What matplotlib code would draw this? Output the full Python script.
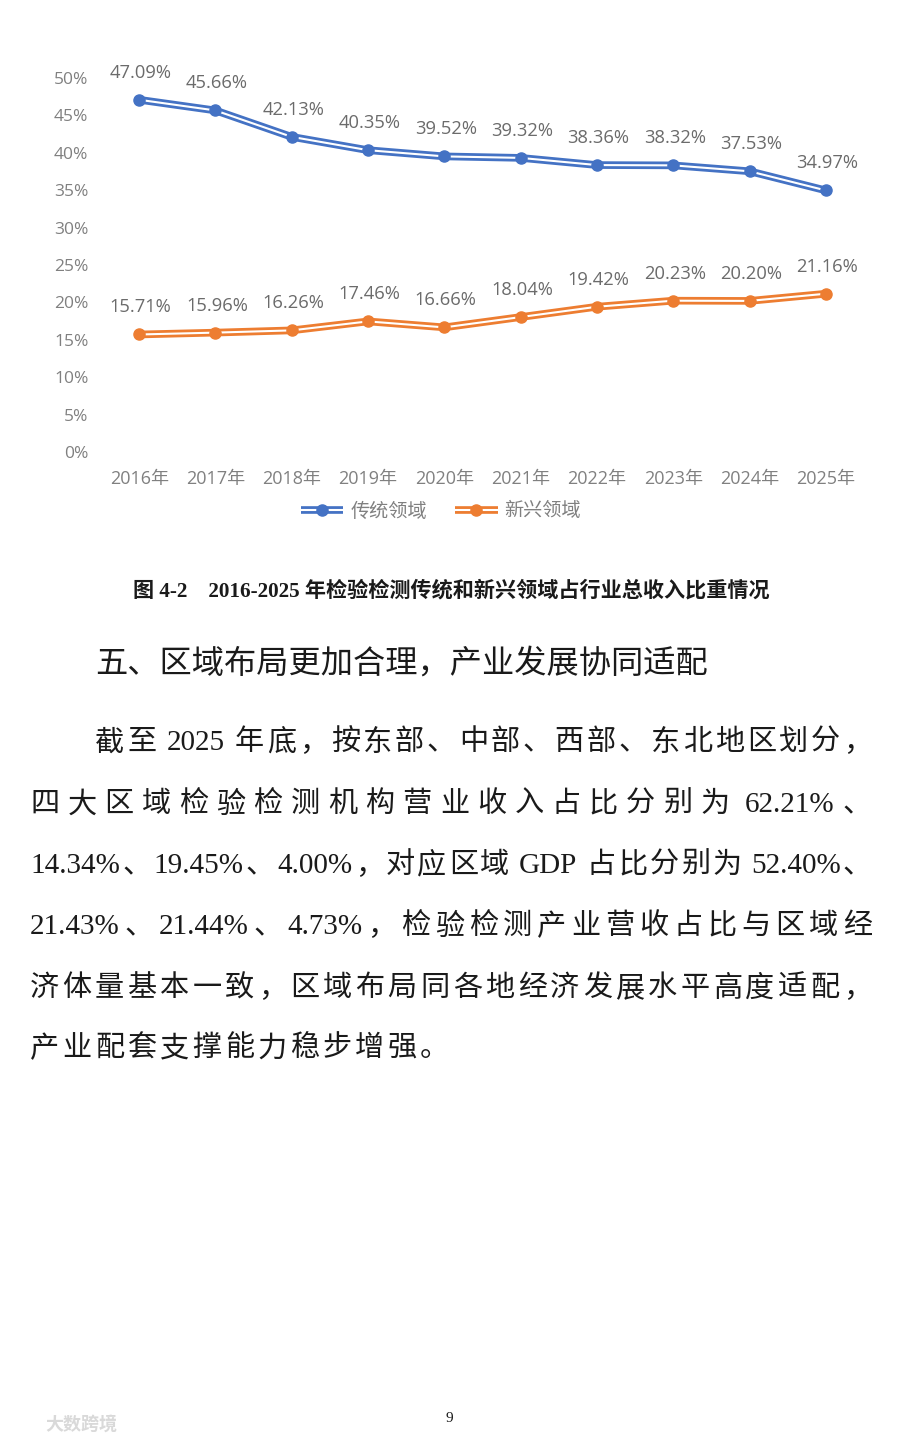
import re
import matplotlib
matplotlib.use("Agg")
import matplotlib.pyplot as plt
import matplotlib.patheffects as pe
from matplotlib.legend_handler import HandlerTuple

# ---------------- data ----------------
years = ["2016年", "2017年", "2018年", "2019年", "2020年",
         "2021年", "2022年", "2023年", "2024年", "2025年"]
traditional = [47.09, 45.66, 42.13, 40.35, 39.52, 39.32, 38.36, 38.32, 37.53, 34.97]
emerging = [15.71, 15.96, 16.26, 17.46, 16.66, 18.04, 19.42, 20.23, 20.20, 21.16]
ytick_vals = [0, 5, 10, 15, 20, 25, 30, 35, 40, 45, 50]
series_names = ["传统领域", "新兴领域"]

caption = "图 4-2    2016-2025 年检验检测传统和新兴领域占行业总收入比重情况"
heading = "五、区域布局更加合理，产业发展协同适配"
body_lines = [
    "截至 2025 年底，按东部、中部、西部、东北地区划分，",
    "四大区域检验检测机构营业收入占比分别为 62.21%、",
    "14.34%、19.45%、4.00%，对应区域 GDP 占比分别为 52.40%、",
    "21.43%、21.44%、4.73%，检验检测产业营收占比与区域经",
    "济体量基本一致，区域布局同各地经济发展水平高度适配，",
    "产业配套支撑能力稳步增强。",
]
page_number = "9"
watermark = "大数跨境"

# ---------------- figure ----------------
W, H = 900, 1443
fig = plt.figure(figsize=(W / 100, H / 100), dpi=100)
fig.patch.set_facecolor("white")

SANS = ["Noto Sans CJK SC", "DejaVu Sans"]
CHART = ["Open Sans", "Noto Sans CJK SC", "DejaVu Sans"]
SERIF = ["Liberation Serif", "Noto Sans CJK SC", "DejaVu Sans"]
plt.rcParams["font.family"] = CHART

BLUE = "#4472C4"
ORANGE = "#ED7D31"
GRAY = "#808080"


def fx(px):
    return px / W


def fy(py):
    return 1 - py / H


# chart axes: x from 101 to 864 px, y 0% at 452 px, 50% at 78 px
ax = fig.add_axes([fx(101), fy(452), fx(864) - fx(101), (452 - 78) / H])
x = list(range(len(years)))
ax.set_xlim(-0.5, len(years) - 0.5)
ax.set_ylim(0, 50)
for s in ax.spines.values():
    s.set_visible(False)

handles = []
for vals, col in [(traditional, BLUE), (emerging, ORANGE)]:
    ln, = ax.plot(x, vals, color="white", lw=1.5, solid_capstyle="butt",
                  path_effects=[pe.Stroke(linewidth=5.5, foreground=col), pe.Normal()],
                  clip_on=False, zorder=3)
    mk, = ax.plot(x, vals, ls="none", marker="o", ms=8, color=col,
                  markeredgecolor=col, clip_on=False, zorder=4)
    handles.append((ln, mk))
    for xi, v in zip(x, vals):
        ax.annotate(f"{v:.2f}%", (xi, v), xytext=(1, 19.5), textcoords="offset points",
                    ha="center", va="center", fontsize=13.2, color="#6b6b6b")

ax.set_yticks(ytick_vals)
ax.set_yticklabels([f"{v}%" for v in ytick_vals])
ax.set_xticks(x)
ax.set_xticklabels(years)
ax.tick_params(axis="y", length=0, labelsize=12.5, labelcolor=GRAY, pad=9)
ax.tick_params(axis="x", length=0, labelsize=13, labelcolor=GRAY, pad=13)

fig.legend(handles, series_names, handler_map={tuple: HandlerTuple(ndivide=1)},
           loc="center", bbox_to_anchor=(fx(441), fy(511)), ncol=2, frameon=False,
           fontsize=13.8, labelcolor=GRAY, handlelength=2.2, columnspacing=1.5,
           handletextpad=0.35, prop={"family": SANS, "size": 13.8})

# ---------------- caption & heading ----------------
fig.text(fx(451), fy(591), caption, ha="center", va="center", fontsize=15.2,
         fontweight="bold", family=SERIF, color="#1a1a1a")
fig.text(fx(95), fy(664), heading, ha="left", va="center", fontsize=23.2,
         family=SANS, color="#1a1a1a")

# ---------------- body text (justified) ----------------
renderer = fig.canvas.get_renderer()
BODY_FS = 21


def tokenize(s):
    return re.findall(r"[A-Za-z0-9.%\-]+| |[^\sA-Za-z0-9.%\-]", s)


def place_line(tokens_, y_px, x0, x1, fs, justify=True, gap=None):
    space_w = 0.25 * fs * 100 / 72
    arts, widths = [], []
    for t in tokens_:
        if t == " ":
            arts.append(None)
            widths.append(space_w)
            continue
        a = fig.text(0, fy(y_px), t, ha="left", va="center", fontsize=fs,
                     family=SERIF, color="#1a1a1a")
        arts.append(a)
        widths.append(a.get_window_extent(renderer).width)
    n_gaps = sum(1 for a in arts if a is not None) - 1
    if justify and n_gaps > 0:
        g = (x1 - x0 - sum(widths)) / n_gaps
    else:
        g = gap if gap is not None else 0
    cur = x0
    prev = None
    for a, w in zip(arts, widths):
        if a is None:
            cur += w
            continue
        if prev is not None:
            cur += g
        a.set_x(fx(cur))
        cur += w
        prev = a
    return g


line_y = [743, 805, 866, 927, 989, 1049]
last_gap = 0
for i, (txt, yy) in enumerate(zip(body_lines, line_y)):
    toks = tokenize(txt)
    x0 = 95 if i == 0 else 30
    if i < len(body_lines) - 1:
        last_gap = place_line(toks, yy, x0, 872, BODY_FS)
    else:
        place_line(toks, yy, x0, 872, BODY_FS, justify=False, gap=last_gap)

# ---------------- page number & watermark ----------------
fig.text(fx(449), fy(1418), page_number, ha="center", va="center", fontsize=11,
         family=SERIF, color="#1a1a1a")
fig.text(fx(45), fy(1424), watermark, ha="left", va="center", fontsize=13,
         family=SANS, color="#d9d9d9", fontweight="bold")

fig.savefig("out.png", dpi=100, facecolor="white")
